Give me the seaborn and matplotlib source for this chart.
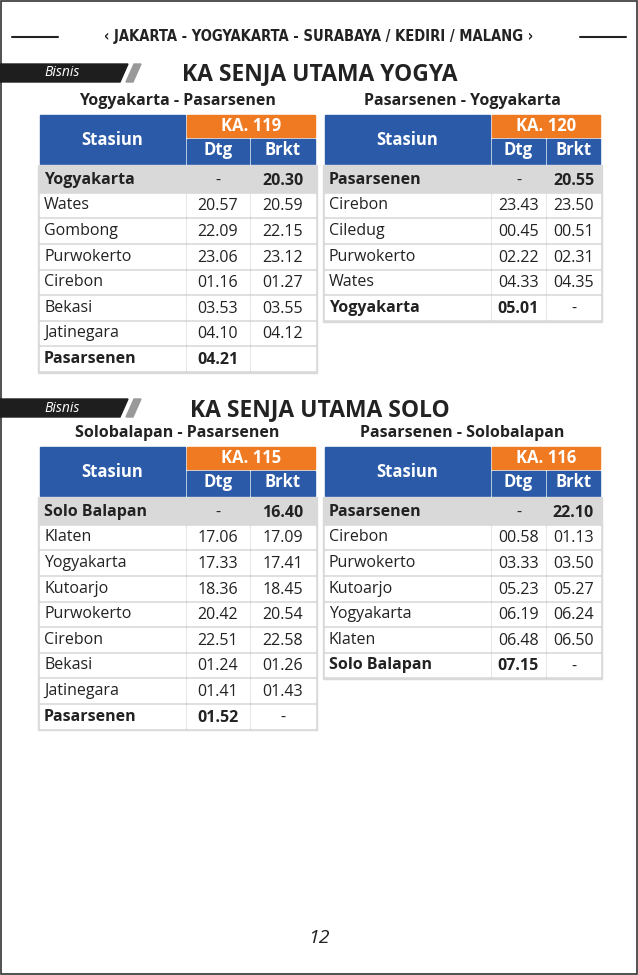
import matplotlib
matplotlib.use("Agg")
import matplotlib.pyplot as plt
import seaborn as sns
from matplotlib.patches import Rectangle, Polygon

sns.set_theme(style="white")
plt.rcParams['font.family'] = ['Open Sans', 'DejaVu Sans']

BLUE = '#2a5aa8'
ORANGE = '#f07a22'
GREY = '#d9d9d9'

# --- data ---
header_title = "JAKARTA - YOGYAKARTA - SURABAYA / KEDIRI / MALANG"
section_titles = ["KA SENJA UTAMA YOGYA", "KA SENJA UTAMA SOLO"]

yogya_out_route = "Yogyakarta - Pasarsenen"
yogya_out_train = "KA. 119"
yogya_out_stations = ["Yogyakarta", "Wates", "Gombong", "Purwokerto", "Cirebon", "Bekasi", "Jatinegara", "Pasarsenen"]
yogya_out_dtg = ["-", "20.57", "22.09", "23.06", "01.16", "03.53", "04.10", "04.21"]
yogya_out_brkt = ["20.30", "20.59", "22.15", "23.12", "01.27", "03.55", "04.12", ""]

yogya_back_route = "Pasarsenen - Yogyakarta"
yogya_back_train = "KA. 120"
yogya_back_stations = ["Pasarsenen", "Cirebon", "Ciledug", "Purwokerto", "Wates", "Yogyakarta"]
yogya_back_dtg = ["-", "23.43", "00.45", "02.22", "04.33", "05.01"]
yogya_back_brkt = ["20.55", "23.50", "00.51", "02.31", "04.35", "-"]

solo_out_route = "Solobalapan - Pasarsenen"
solo_out_train = "KA. 115"
solo_out_stations = ["Solo Balapan", "Klaten", "Yogyakarta", "Kutoarjo", "Purwokerto", "Cirebon", "Bekasi", "Jatinegara", "Pasarsenen"]
solo_out_dtg = ["-", "17.06", "17.33", "18.36", "20.42", "22.51", "01.24", "01.41", "01.52"]
solo_out_brkt = ["16.40", "17.09", "17.41", "18.45", "20.54", "22.58", "01.26", "01.43", "-"]

solo_back_route = "Pasarsenen - Solobalapan"
solo_back_train = "KA. 116"
solo_back_stations = ["Pasarsenen", "Cirebon", "Purwokerto", "Kutoarjo", "Yogyakarta", "Klaten", "Solo Balapan"]
solo_back_dtg = ["-", "00.58", "03.33", "05.23", "06.19", "06.48", "07.15"]
solo_back_brkt = ["22.10", "01.13", "03.50", "05.27", "06.24", "06.50", "-"]

page_number = "12"

fig = plt.figure(figsize=(6.38, 9.75), dpi=100)
ax = fig.add_axes([0, 0, 1, 1])
ax.set_xlim(0, 638)
ax.set_ylim(975, 0)
ax.axis('off')

ax.add_patch(Rectangle((1, 1), 636, 973, fill=False, ec='#333333', lw=1.2))

# top header
ax.plot([12, 58], [37, 37], color='#222222', lw=1.5)
ax.plot([580, 626], [37, 37], color='#222222', lw=1.5)
ax.text(319, 37, "\u2039 " + header_title + " \u203a", ha='center', va='center',
        fontsize=10.5, fontweight='heavy', color='#222222', family=['DejaVu Sans'],
        fontstretch='condensed')


def bisnis(y):
    ax.add_patch(Polygon([(0, y - 9), (128, y - 9), (120, y + 9), (0, y + 9)], color='#1e1e1e'))
    ax.add_patch(Polygon([(126, y + 9), (134, y - 9), (141, y - 9), (133, y + 9)], color='#999999'))
    ax.text(44, y, "Bisnis", ha='left', va='center', fontsize=10, style='italic', color='white')


def table(x0, widths, ytop, route, train, stations, dtg, brkt):
    xs = [x0, x0 + widths[0] + 2, x0 + widths[0] + widths[1] + 4]
    total = sum(widths) + 4
    ax.text(x0 + total / 2, ytop - 14, route, ha='center', va='center', fontsize=11.5, fontweight='bold', color='#222222')
    # header
    ax.add_patch(Rectangle((xs[0], ytop), widths[0], 49, color=BLUE))
    ax.text(xs[0] + widths[0] / 2, ytop + 25, "Stasiun", ha='center', va='center', fontsize=12, fontweight='bold', color='white')
    ax.add_patch(Rectangle((xs[1], ytop), widths[1] + widths[2] + 2, 22, color=ORANGE))
    ax.text(xs[1] + (widths[1] + widths[2] + 2) / 2, ytop + 11, train, ha='center', va='center', fontsize=12, fontweight='bold', color='white')
    for i, lab in ((1, "Dtg"), (2, "Brkt")):
        ax.add_patch(Rectangle((xs[i], ytop + 24), widths[i], 25, color=BLUE))
        ax.text(xs[i] + widths[i] / 2, ytop + 35, lab, ha='center', va='center', fontsize=12, fontweight='bold', color='white')
    # rows
    rh = 25.6
    y = ytop + 52
    ax.add_patch(Rectangle((xs[0] - 2, y - 2), total + 4, rh * len(stations) + 3, color=GREY))
    n = len(stations)
    for r in range(n):
        first = r == 0
        last = r == n - 1
        fc = GREY if first else 'white'
        bold = 'bold' if (first or last) else 'normal'
        vals = [stations[r], dtg[r], brkt[r]]
        for i in range(3):
            ax.add_patch(Rectangle((xs[i], y + 1.2), widths[i], rh - 3.0, color=fc))
            b = bold
            if last and i == 2:
                b = 'normal'
            if first and i == 1:
                b = 'normal'
            if i == 0:
                ax.text(xs[i] + 4, y + rh / 2, vals[i], ha='left', va='center', fontsize=11.5, fontweight=b, color='#222222')
            else:
                ax.text(xs[i] + widths[i] / 2, y + rh / 2 + 1, vals[i], ha='center', va='center', fontsize=11.5, fontweight=b, color='#222222')
        y += rh


L = (40, [145, 62, 64])
R = (325, [165, 53, 53])

bisnis(73)
ax.text(320, 74, section_titles[0], ha='center', va='center', fontsize=16.5, fontweight='bold', color='#222222')
table(L[0], L[1], 115, yogya_out_route, yogya_out_train, yogya_out_stations, yogya_out_dtg, yogya_out_brkt)
table(R[0], R[1], 115, yogya_back_route, yogya_back_train, yogya_back_stations, yogya_back_dtg, yogya_back_brkt)

bisnis(408)
ax.text(320, 410, section_titles[1], ha='center', va='center', fontsize=16.5, fontweight='bold', color='#222222')
table(L[0], L[1], 447, solo_out_route, solo_out_train, solo_out_stations, solo_out_dtg, solo_out_brkt)
table(R[0], R[1], 447, solo_back_route, solo_back_train, solo_back_stations, solo_back_dtg, solo_back_brkt)

ax.text(319, 938, page_number, ha='center', va='center', fontsize=14, style='italic', color='#222222')

fig.savefig("out.png", dpi=100)
